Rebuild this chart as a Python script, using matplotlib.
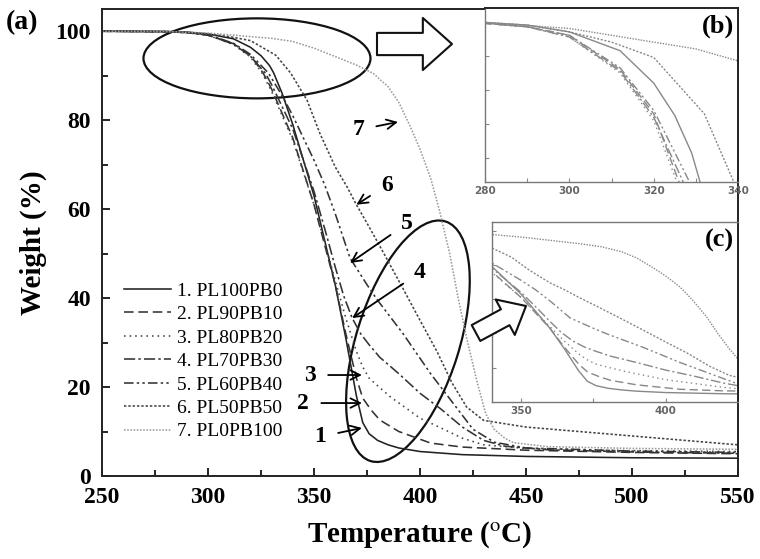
import numpy as np
import matplotlib
matplotlib.use("Agg")
from matplotlib import pyplot as plt
from matplotlib.patches import Ellipse, FancyArrowPatch
from matplotlib.transforms import ScaledTranslation

plt.rcParams['font.family'] = ['Liberation Serif', 'DejaVu Serif']
plt.rcParams['mathtext.fontset'] = 'stix'

# TGA curves, temperature (C) -> weight (%)
t1 = [250, 280, 290, 300, 312, 320, 325, 329, 331, 335, 340, 345, 350, 355, 360, 365, 370, 373, 376, 380, 385, 390, 400, 420, 450, 500, 550]
w1 = [100, 99.95, 99.8, 99.4, 98.3, 96.4, 94.5, 92.3, 90.6, 86, 79, 71, 63, 53, 43, 31, 18, 12, 9.5, 8, 7, 6.3, 5.5, 4.8, 4.4, 4.1, 4.0]

t2 = [250, 280, 290, 300, 312, 320, 326, 330, 340, 350, 360, 365, 370, 373, 377, 381, 390, 405, 420, 450, 500, 550]
w2 = [100, 99.9, 99.7, 99.2, 97.2, 94.6, 90.6, 87, 76, 61, 43, 32, 22, 17.5, 14.8, 12.6, 10, 7.4, 6.5, 5.8, 5.3, 5.0]

t3 = [250, 280, 290, 300, 312, 320, 325.5, 330, 340, 350, 360, 365, 370, 373, 376, 380, 386, 400, 409, 420, 430, 450, 500, 550]
w3 = [100, 99.9, 99.7, 99.1, 97.0, 94.2, 90.6, 86.5, 75.5, 61, 44, 35.5, 28, 24.5, 22, 20.3, 17.8, 13, 11, 8.5, 7, 6.2, 5.7, 5.5]

t4 = [250, 280, 290, 300, 312, 320, 327, 330, 340, 350, 356, 360, 364, 368, 372, 376, 381, 390, 400, 410, 420, 430, 440, 460, 500, 550]
w4 = [100, 99.9, 99.7, 99.1, 97.1, 94.4, 90.6, 88, 78, 64, 54, 47, 40.5, 35.5, 32, 29.5, 26.7, 23, 18.6, 15, 11, 8, 6.7, 5.9, 5.4, 5.1]

t5 = [250, 280, 290, 300, 312, 320, 328.5, 335, 340, 345, 350, 355, 360, 367, 375, 380, 392, 405, 417, 425, 435, 450, 500, 550]
w5 = [100, 99.9, 99.7, 99.2, 97.3, 94.8, 90.6, 85.5, 81, 76, 71, 65.5, 59, 49, 43, 39.5, 32, 23, 15.5, 10.5, 7.6, 6.3, 5.6, 5.3]

t6 = [250, 280, 290, 300, 310, 320, 332, 339, 346.7, 352.8, 360, 365.6, 370, 376, 383, 391, 400, 408, 415, 422, 430, 450, 500, 550]
w6 = [100, 99.95, 99.8, 99.4, 98.8, 97.9, 94.6, 90.6, 84.5, 77, 69.5, 65, 61, 56, 50, 43, 35, 28, 21, 15.5, 12.5, 11, 9, 7]

t7 = [250, 280, 300, 320, 330, 340, 350, 360, 370, 378, 385, 390, 395, 400, 405, 409, 414, 418, 422, 427, 431, 435, 440, 444, 460, 500, 550]
w7 = [100, 99.95, 99.6, 98.8, 98.4, 97.7, 96.2, 94.3, 92.4, 90.5, 87.5, 84, 79, 73.5, 67, 60, 50, 40, 31, 21, 14, 10.5, 8.5, 7.5, 6.6, 6.2, 6.0]

labels = ['1. PL100PB0', '2. PL90PB10', '3. PL80PB20', '4. PL70PB30',
          '5. PL60PB40', '6. PL50PB50', '7. PL0PB100']
temps = [t1, t2, t3, t4, t5, t6, t7]
weights = [w1, w2, w3, w4, w5, w6, w7]
styles = ['-', (0, (6, 3)), (0, (1, 2.5)), (0, (7, 2, 1.5, 2)),
          (0, (6, 2, 1.5, 2, 1.5, 2)), (0, (1.5, 1.2)), (0, (1, 1))]
colors = ['#222222', '#333333', '#444444', '#333333', '#333333', '#444444', '#999999']

fig = plt.figure(figsize=(7.6, 5.59), dpi=100)
ax = fig.add_axes([0.1342, 0.1485, 0.8369, 0.8354])

for t, w, ls, c, lab in zip(temps, weights, styles, colors, labels):
    ax.plot(t, w, linestyle=ls, color=c, lw=1.15, label=lab)

ax.set_xlim(250, 550)
ax.set_ylim(0, 105)
ax.set_xticks(np.arange(250, 551, 50))
ax.set_xticks(np.arange(275, 550, 50), minor=True)
ax.set_yticks(np.arange(0, 101, 20))
ax.set_yticks(np.arange(10, 100, 20), minor=True)
ax.tick_params(which='both', direction='in', top=False, right=False, width=1.2)
ax.tick_params(which='major', length=6, labelsize=17, pad=8)
ax.tick_params(which='minor', length=4)
for lab in ax.get_xticklabels() + ax.get_yticklabels():
    lab.set_fontweight('bold')
for s in ax.spines.values():
    s.set_linewidth(1.4)
    s.set_color('#222222')

ax.set_xlabel(r'Temperature ($^{\mathrm{o}}$C)', fontsize=21, fontweight='bold', labelpad=8)
ax.set_ylabel('Weight (%)', fontsize=21, fontweight='bold', labelpad=6)

ax.legend(loc='upper left', bbox_to_anchor=(0.035, 0.415), frameon=False,
          fontsize=14, handlelength=2.4, handletextpad=0.3, labelspacing=0.3,
          borderpad=0, borderaxespad=0)

# numbered pointers
num_pos = [('1', (352.8, 8.8), (372.6, 10.8)),
           ('2', (344.8, 16.4), (372.6, 16.4)),
           ('3', (348, 22.7), (372.6, 22.7)),
           ('4', (400, 45.8), (368, 35.5)),
           ('5', (394, 56.8), (367, 47.9)),
           ('6', (384.4, 65.4), (370, 61)),
           ('7', (370.8, 77.8), (389.6, 79.6))]
for n, txt_xy, tip in num_pos:
    ax.annotate(n, xy=tip, xytext=txt_xy, fontsize=17, fontweight='bold',
                ha='center', va='center',
                arrowprops=dict(arrowstyle='->', color='black', lw=1.3,
                                shrinkA=7, shrinkB=0))

# ellipses: centre in data, size in inches
e1 = Ellipse((0, 0), 2.27, 0.80, angle=0, fill=False, ec='#111111', lw=1.6,
             transform=fig.dpi_scale_trans + ScaledTranslation(323.1, 93.9, ax.transData))
e2 = Ellipse((0, 0), 2.51, 1.03, angle=72.6, fill=False, ec='#111111', lw=1.6,
             transform=fig.dpi_scale_trans + ScaledTranslation(394.3, 30.3, ax.transData))
ax.add_patch(e1)
ax.add_patch(e2)

fig.text(0.007, 0.982, '(a)', fontsize=20, fontweight='bold', va='top', ha='left')

# insets
def inset(rect, xlim, ylim, xt, xminor, yt, tag):
    axi = fig.add_axes(rect)
    for t, w, ls in zip(temps, weights, styles):
        axi.plot(t, w, linestyle=ls, color='#888888', lw=1.0)
    axi.set_xlim(*xlim)
    axi.set_ylim(*ylim)
    axi.set_xticks(xt)
    axi.set_xticks(xminor, minor=True)
    axi.set_yticks(yt)
    axi.tick_params(which='both', direction='in', length=3, width=0.8,
                    colors='#888888', labelcolor='#666666', labelsize=7.5, pad=3)
    axi.set_yticklabels([])
    for lab in axi.get_xticklabels():
        lab.set_fontweight('bold')
        lab.set_family(['DejaVu Sans'])
    for s in axi.spines.values():
        s.set_color('#777777')
        s.set_linewidth(1.0)
    axi.spines['right'].set_color('#222222')
    axi.spines['right'].set_linewidth(1.4)
    axi.text(0.985, 0.96, tag, transform=axi.transAxes, ha='right', va='top',
             fontsize=19, fontweight='bold')
    return axi

axb = inset([0.6382, 0.6744, 0.3329, 0.3113], (280, 340), (90.6, 100.8),
            [280, 300, 320, 340], [290, 310, 330], [92, 94, 96, 98, 100], '(b)')
axb.spines['top'].set_color('#222222')
axb.spines['top'].set_linewidth(1.4)
axc = inset([0.6474, 0.2809, 0.3237, 0.3220], (340, 425), (0, 105),
            [350, 400], [375], [20, 40, 60, 80, 100], '(c)')

# hollow block arrows, drawn on top of the figure (pixel positions)
arr1 = FancyArrowPatch((377, 515), (452, 515), transform=None,
                       arrowstyle='simple,head_length=2.1,head_width=3.75,tail_width=1.6',
                       mutation_scale=10, fc='white', ec='#111111', lw=1.5,
                       shrinkA=0, shrinkB=0, zorder=5)
arr2 = FancyArrowPatch((476, 226), (526, 253), transform=None,
                       arrowstyle='simple,head_length=1.7,head_width=2.9,tail_width=1.3',
                       mutation_scale=10, fc='white', ec='#111111', lw=1.5,
                       shrinkA=0, shrinkB=0, zorder=5)
fig.add_artist(arr1)
fig.add_artist(arr2)

fig.savefig('out.png', dpi=100)
